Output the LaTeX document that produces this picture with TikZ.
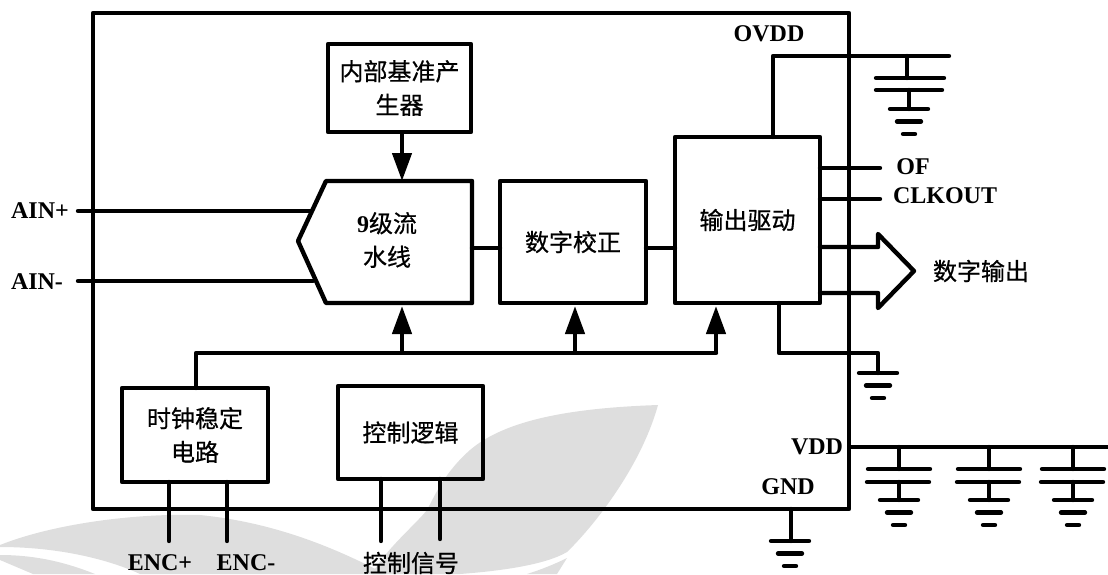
\documentclass[tikz,border=0pt]{standalone}
\usepackage{fontspec}
\setmainfont{Liberation Serif}
\newfontfamily\cjk[FakeBold=0.6]{Noto Sans CJK SC}
\definecolor{wm}{gray}{0.87}
\usetikzlibrary{arrows.meta}
\tikzset{
  x=0.5pt,y=-0.5pt,
  wire/.style={line width=2.2pt,line cap=round,line join=round},
  blockbox/.style={draw,line width=2.4pt,line join=round,outer sep=0pt,inner sep=0pt,align=center,font=\fontsize{12}{16.8}\selectfont\cjk,anchor=north west},
  lat/.style={font=\fontsize{12}{12}\selectfont\bfseries,inner sep=0pt},
  zh/.style={font=\fontsize{12}{16.8}\selectfont\cjk,inner sep=0pt,align=center},
  plate/.style={line width=2.2pt,line cap=round},
  flow/.style={line width=2.2pt,-{Triangle[length=14pt,width=9.5pt]}},
}
\newcommand{\gndsym}[2]{%
  \draw[plate] (#1-19,#2) -- (#1+19,#2);
  \draw[plate] (#1-12,#2+12.5) -- (#1+12,#2+12.5);
  \draw[plate] (#1-6,#2+25) -- (#1+6,#2+25);
}
\newcommand{\capsym}[2]{%
  \draw[wire] (#1,#2) -- (#1,#2+22);
  \draw[plate] (#1-31,#2+22) -- (#1+31,#2+22);
  \draw[plate] (#1-32,#2+35) -- (#1+30,#2+35);
  \draw[wire] (#1,#2+35) -- (#1,#2+53);
  \gndsym{#1}{#2+53}
}
\begin{document}
\begin{tikzpicture}
\useasboundingbox (0,0) rectangle (1108,574);
% watermark
\fill[wm] (658,405) .. controls (570,408) and (505,420) .. (470,450) .. controls (445,472) and (435,495) .. (427,510)
  .. controls (415,525) and (385,550) .. (372,574) -- (460,574)
  .. controls (500,571) and (545,565) .. (567,552) .. controls (590,530) and (640,470) .. (658,405) -- cycle;
\fill[wm] (567,558) -- (557,574) -- (527,574) .. controls (540,570) and (555,564) .. (567,558) -- cycle;
\fill[wm] (0,545) .. controls (50,525) and (130,513) .. (200,515) .. controls (270,522) and (330,545) .. (385,574)
  -- (140,574) .. controls (110,560) and (60,547) .. (0,547) -- cycle;
\fill[wm] (0,555) .. controls (30,555) and (60,560) .. (95,574) -- (33,574) -- (0,560) -- cycle;
% frame
\draw[wire] (93,13) -- (849,13) -- (849,509) -- (93,509) -- cycle;
% blocks
\node[blockbox,minimum width=71.5pt,minimum height=44pt] (ref) at (328,44) {内部基准产\\生器};
\draw[wire,line cap=butt] (326,181) coordinate (pa) -- (472,181) -- (472,303) coordinate (pb) -- (326,303) -- (298,241) -- cycle;
\node[zh] (pipe) at (387,240) {{\fontsize{12}{12}\selectfont\bfseries\rmfamily 9}级流\\水线};
\coordinate (pr) at (472,248);
\node[blockbox,minimum width=73pt,minimum height=61pt] (dig) at (500,181) {数字校正};
\node[blockbox,minimum width=72.5pt,minimum height=83pt] (drv) at (675,137) {输出驱动};
\node[blockbox,minimum width=73pt,minimum height=47pt] (clk) at (122,388) {时钟稳定\\电路};
\node[blockbox,minimum width=72.5pt,minimum height=46.5pt] (ctl) at (338,386) {控制逻辑};
% connectors
\draw[flow] (ref.south -| 402,0) -- (402,181);
\draw[wire] (pr) -- (dig.west |- pr);
\draw[wire] (dig.east |- pr) -- (drv.west |- pr);
\draw[wire] (clk.north -| 196,0) -- (196,353) coordinate (busL) -- (716,353);
\draw[flow] (402,353) -- (402,306);
\draw[flow] (575,353) -- (575,306);
\draw[flow] (716,353) -- (716,306);
% inputs
\node[lat] (ainp) at (40,211) {AIN+};
\node[lat] (ainm) at (37,282) {AIN-};
\draw[wire] (78,211) -- (311,211);
\draw[wire] (78,281) -- (313,281);
% clock and control pins
\draw[wire] (clk.south -| 169,0) -- (169,541);
\draw[wire] (clk.south -| 227,0) -- (227,541);
\draw[wire] (ctl.south -| 381,0) -- (381,541);
\draw[wire] (ctl.south -| 440,0) -- (440,539);
\node[lat] (encp) at (160,563) {ENC+};
\node[lat] (encm) at (246,563) {ENC-};
\node[zh] (ctlsig) at (411,563) {控制信号};
% OVDD
\node[lat] (ovdd) at (769,34) {OVDD};
\draw[wire] (drv.north -| 773,0) -- (773,56) -- (949,56);
\draw[wire] (907,56) -- (907,78);
\draw[plate] (876,78) -- (944,78);
\draw[plate] (876,90) -- (942,90);
\draw[wire] (909,90) -- (909,109);
\gndsym{909}{109}
% outputs
\draw[wire] (drv.east |- 0,168) -- (880,168);
\draw[wire] (drv.east |- 0,199) -- (880,199);
\node[lat] (of) at (913,167) {OF};
\node[lat] (clkout) at (945,196) {CLKOUT};
\draw[wire] (drv.east |- 0,247) -- (878,247) -- (878,234) -- (914,271) -- (878,308) -- (878,293) -- (drv.east |- 0,293);
\node[zh] (dout) at (981,271) {数字输出};
% driver ground
\draw[wire] (drv.south -| 779,0) -- (779,353) -- (878,353) -- (878,373);
\gndsym{878}{373}
% VDD
\node[lat] (vdd) at (817,447) {VDD};
\draw[wire,line cap=butt] (849,447) -- (1108,447);
\capsym{899}{447}
\capsym{989}{447}
\capsym{1073}{447}
% GND
\node[lat] (gnd) at (788,487) {GND};
\draw[wire] (791,509) -- (791,541);
\gndsym{790}{541}
\end{tikzpicture}
\end{document}
